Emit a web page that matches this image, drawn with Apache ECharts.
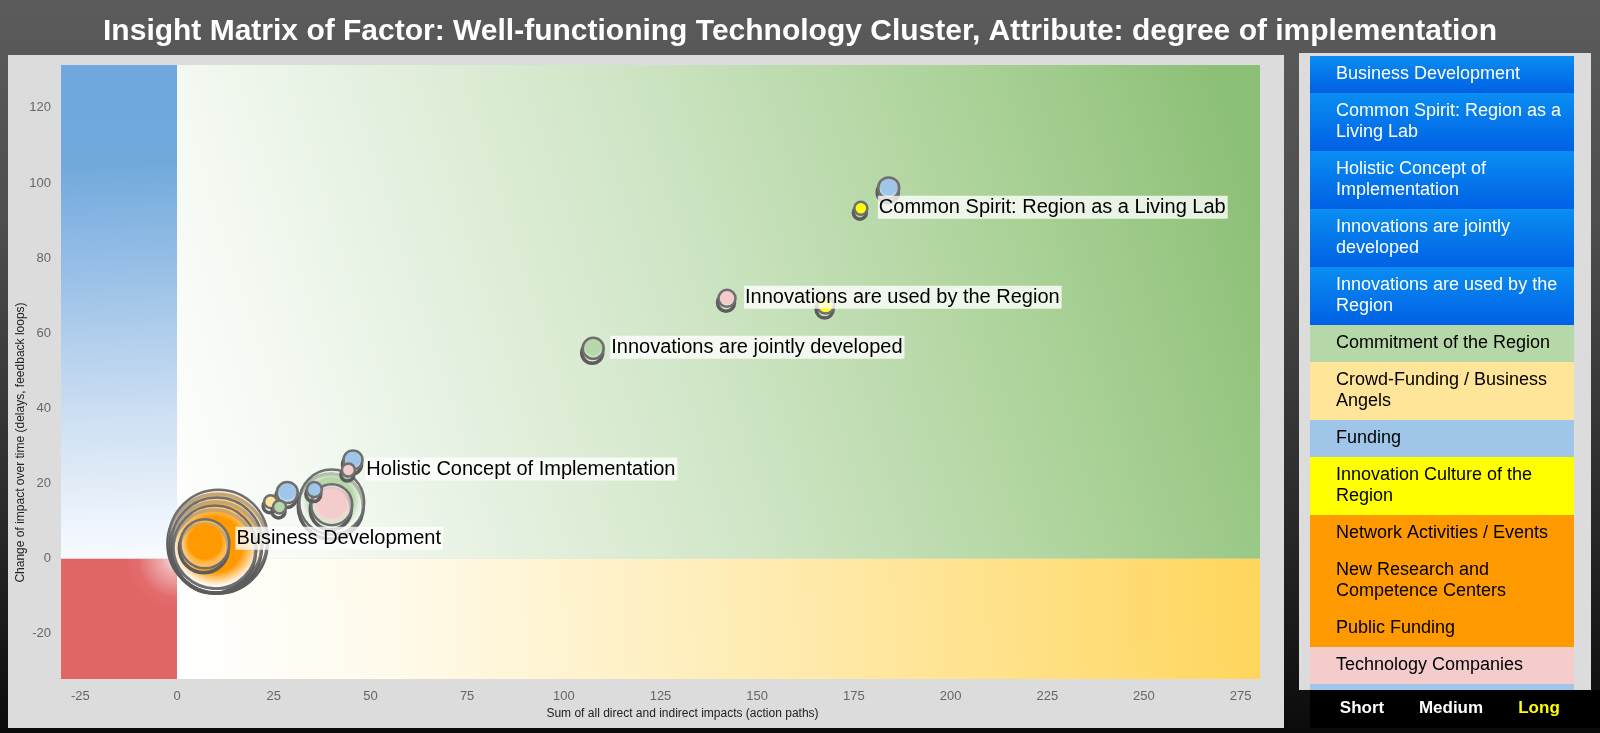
<!DOCTYPE html>
<html><head><meta charset="utf-8">
<script src="https://cdn.jsdelivr.net/npm/echarts@6/dist/echarts.min.js"></script>
<style>
html,body{margin:0;padding:0;width:1600px;height:733px;overflow:hidden;
background:linear-gradient(180deg,#5b5b5b 0%,#4e4e4e 30%,#2a2a2a 70%,#0b0b0b 100%);}
#c{width:1600px;height:733px;}
</style></head><body><div id="c"></div>
<script>
// ---------- data ----------
const titleText = 'Insight Matrix of Factor: Well-functioning Technology Cluster, Attribute: degree of implementation';
const xAxisName = 'Sum of all direct and indirect impacts (action paths)';
const yAxisName = 'Change of impact over time (delays, feedback loops)';
const xRange = [-30, 280];
const yRange = [-32, 131.4];
const xLabelStep = 25;
const yLabelStep = 20;

// bubbles (drawing order: larger first)
const bubbleX = [10.7, 10.3, 9.8, 40.0, 7.2, 40.0, 28.5, 184.0, 107.6, 45.5, 142.2, 167.7, 35.5, 24.2, 26.5, 44.3, 176.8];
const bubbleY = [5.2, 4.2, 3.1, 15.1, 4.0, 14.4, 17.6, 98.7, 56.0, 26.3, 69.3, 67.5, 18.4, 15.2, 13.8, 23.6, 93.3];
const bubbleSize = [51, 47, 43, 34, 26, 22, 12, 12, 12, 11, 10, 10, 9, 8, 8, 8, 8];
const bubbleCategory = [
  'Public Funding', 'New Research and Competence Centers', 'Network Activities / Events',
  'Commitment of the Region', 'Network Activities / Events', 'Technology Companies',
  'Funding', 'Funding', 'Commitment of the Region', 'Funding', 'Technology Companies',
  'Innovation Culture of the Region', 'Funding', 'Crowd-Funding / Business Angels',
  'Commitment of the Region', 'Technology Companies', 'Innovation Culture of the Region'
];
const bubbleLabel = [
  'Business Development', '', '', '', '', '', '', '', 'Innovations are jointly developed', '',
  'Innovations are used by the Region', '', '', '', '', 'Holistic Concept of Implementation',
  'Common Spirit: Region as a Living Lab'
];

// legend list
const legendNames = [
  'Business Development', 'Common Spirit: Region as a\nLiving Lab', 'Holistic Concept of\nImplementation',
  'Innovations are jointly\ndeveloped', 'Innovations are used by the\nRegion', 'Commitment of the Region',
  'Crowd-Funding / Business\nAngels', 'Funding', 'Innovation Culture of the\nRegion',
  'Network Activities / Events', 'New Research and\nCompetence Centers', 'Public Funding', 'Technology Companies'
];
const legendColors = [
  'factor', 'factor', 'factor', 'factor', 'factor', '#b6d7a8', '#ffe599', '#9fc5e8', '#ffff00',
  '#ff9900', '#ff9900', '#ff9900', '#f4cccc'
];
const termLabels = ['Short', 'Medium', 'Long'];
const termColors = ['#ffffff', '#ffffff', '#ffff00'];

// ---------- build ----------
const chart = echarts.init(document.getElementById('c'), null, {renderer: 'canvas'});
const sans = '"Liberation Sans", Arial, sans-serif';

const catColor = {};
legendNames.forEach((n, i) => { catColor[n.replace('\n', ' ')] = legendColors[i]; });

function bubbleFill(col) {
  return new echarts.graphic.RadialGradient(0.5, 0.47, 0.5, [
    {offset: 0, color: col}, {offset: 0.65, color: col}, {offset: 1, color: 'rgba(255,255,255,0.3)'}
  ]);
}

const bubbleData = bubbleX.map((x, i) => [x, bubbleY[i], bubbleSize[i], i]);

// quadrant backgrounds
const qBlue = new echarts.graphic.LinearGradient(0, 0, 0.15, 1, [
  {offset: 0, color: '#6ea8dc'}, {offset: 0.2, color: '#71a9dd'}, {offset: 0.4, color: '#95bde6'},
  {offset: 0.7, color: '#cbdef2'}, {offset: 1, color: '#f8fbfe'}
]);
const qRed = new echarts.graphic.RadialGradient(1, 0, 0.45, [
  {offset: 0, color: '#f9e8e8'}, {offset: 0.3, color: '#eeabab'}, {offset: 0.75, color: '#e26c6c'}, {offset: 1, color: '#e06666'}
]);
const qGreen = new echarts.graphic.LinearGradient(0, 1, 1, 0.3, [
  {offset: 0, color: '#ffffff'}, {offset: 0.15, color: '#f2f8f0'}, {offset: 0.5, color: '#cfe5c5'},
  {offset: 0.8, color: '#a9d196'}, {offset: 1, color: '#8dc077'}
]);
const qYellow = new echarts.graphic.LinearGradient(0, 0.3, 1, 0, [
  {offset: 0, color: '#ffffff'}, {offset: 0.2, color: '#fffaea'}, {offset: 0.6, color: '#ffe9a8'}, {offset: 1, color: '#ffd65c'}
]);

// legend graphics
const graphics = [];
graphics.push({type: 'rect', shape: {x: 8, y: 55, width: 1276, height: 673}, style: {fill: '#dcdcdc'}, silent: true, z: -10});
graphics.push({type: 'rect', shape: {x: 1299, y: 53, width: 292, height: 637}, style: {fill: '#dcdcdc'}, silent: true, z: -10});
let ly = 56;
legendNames.forEach((n, i) => {
  const lines = n.split('\n').length;
  const h = 16 + 21 * lines;
  const isFactor = legendColors[i] === 'factor';
  const fill = isFactor ? new echarts.graphic.LinearGradient(0, 0, 0, 1, [
    {offset: 0, color: '#0a8ef2'}, {offset: 1, color: '#0060e4'}]) : legendColors[i];
  graphics.push({type: 'rect', shape: {x: 1310, y: ly, width: 264, height: h}, style: {fill}, silent: true});
  graphics.push({type: 'text', x: 1336, y: ly + h / 2, silent: true,
    style: {text: n, fill: isFactor ? '#ffffff' : '#000000', font: '18px ' + sans, lineHeight: 21,
      align: 'left', verticalAlign: 'middle'}});
  ly += h;
});
graphics.push({type: 'rect', shape: {x: 1310, y: ly, width: 264, height: 6}, style: {fill: '#9fc5e8'}, silent: true});
graphics.push({type: 'rect', shape: {x: 1310, y: 690, width: 290, height: 38}, style: {fill: '#000000'}, silent: true});
const termX = [1362, 1451, 1539];
termLabels.forEach((t, i) => {
  graphics.push({type: 'text', x: termX[i], y: 708, silent: true,
    style: {text: t, fill: termColors[i], font: 'bold 17px ' + sans, align: 'center', verticalAlign: 'middle'}});
});

const option = {
  animation: false,
  title: {text: titleText, left: 'center', top: 12,
    textStyle: {color: '#ffffff', fontSize: 30, fontWeight: 'bold', fontFamily: sans}},
  grid: {left: 61, right: 340, top: 65, bottom: 54},
  xAxis: {type: 'value', min: xRange[0], max: xRange[1], interval: 5,
    splitLine: {show: false}, axisLine: {show: false}, axisTick: {show: false},
    axisLabel: {formatter: v => (v % xLabelStep === 0 ? String(v) : ''), color: '#666', fontSize: 13, fontFamily: sans, margin: 11},
    name: xAxisName, nameLocation: 'middle', nameGap: 28,
    nameTextStyle: {color: '#222', fontSize: 12, fontFamily: sans, padding: [0, 0, 0, 44]}},
  yAxis: {type: 'value', min: yRange[0], max: yRange[1], interval: 4,
    splitLine: {show: false}, axisLine: {show: false}, axisTick: {show: false},
    axisLabel: {formatter: v => (v % yLabelStep === 0 ? String(v) : ''), color: '#666', fontSize: 13, fontFamily: sans, margin: 10},
    name: yAxisName, nameLocation: 'middle', nameGap: 34, nameMoveOverlap: false,
    nameTextStyle: {color: '#222', fontSize: 12, fontFamily: sans, padding: [0, 141, 0, 0]}},
  graphic: graphics,
  series: [
    {type: 'scatter', data: [], silent: true, z: 1,
      markArea: {silent: true, label: {show: false}, data: [
        [{xAxis: xRange[0], yAxis: 0, itemStyle: {color: qBlue}}, {xAxis: 0, yAxis: yRange[1]}],
        [{xAxis: xRange[0], yAxis: yRange[0], itemStyle: {color: qRed}}, {xAxis: 0, yAxis: 0}],
        [{xAxis: 0, yAxis: 0, itemStyle: {color: qGreen}}, {xAxis: xRange[1], yAxis: yRange[1]}],
        [{xAxis: 0, yAxis: yRange[0], itemStyle: {color: qYellow}}, {xAxis: xRange[1], yAxis: 0}]
      ]}},
    {type: 'custom', z: 3, silent: true, data: bubbleData, encode: {x: 0, y: 1},
      renderItem: (params, api) => {
        const pt = api.coord([api.value(0), api.value(1)]);
        const r = api.value(2) - 1.5;
        const col = catColor[bubbleCategory[api.value(3)]];
        return {type: 'group', children: [
          {type: 'circle', shape: {cx: pt[0] - 1, cy: pt[1] + 4.5, r}, style: {fill: 'none', stroke: '#5c5c5c', lineWidth: 3.5}},
          {type: 'circle', shape: {cx: pt[0], cy: pt[1], r}, style: {fill: bubbleFill(col), stroke: '#6f6f6f', lineWidth: 2.5}}
        ]};
      }},
    {type: 'custom', z: 5, silent: true, data: bubbleData, encode: {x: 0, y: 1},
      renderItem: (params, api) => {
        const txt = bubbleLabel[api.value(3)];
        if (!txt) return {type: 'group', children: []};
        const pt = api.coord([api.value(0), api.value(1)]);
        return {type: 'text', x: pt[0] + 17, y: pt[1] - 1,
          style: {text: txt, fill: '#000', font: '20px ' + sans, align: 'left', verticalAlign: 'middle',
            backgroundColor: 'rgba(255,255,255,0.78)', padding: [2, 2, 1, 1]}};
      }}
  ]
};
chart.setOption(option);
</script></body></html>
